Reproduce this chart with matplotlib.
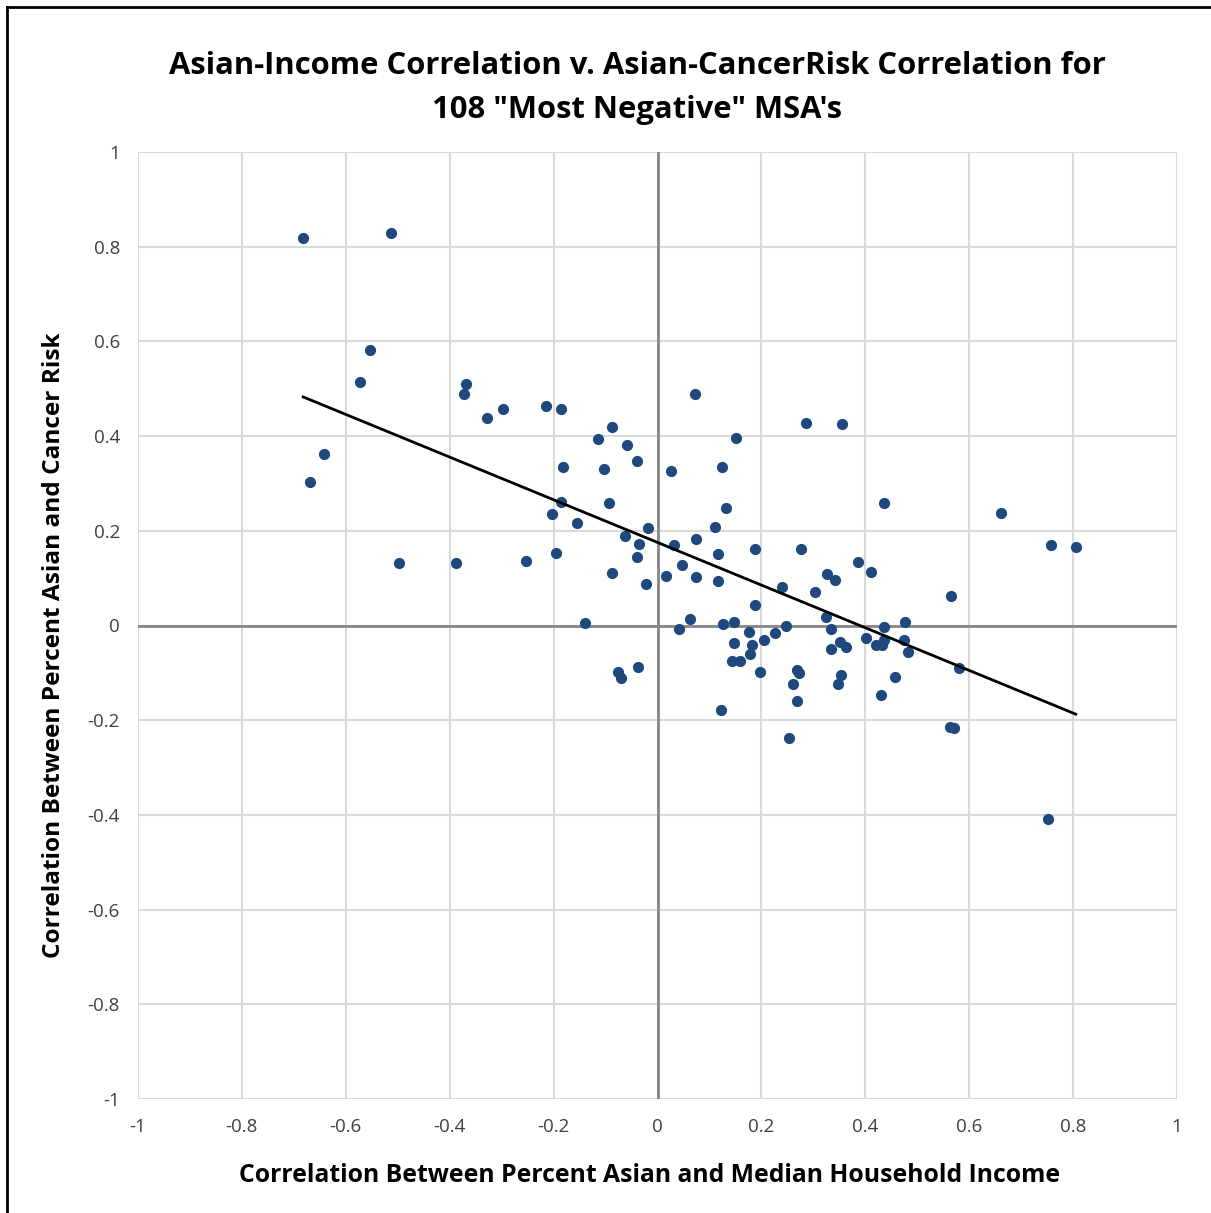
import numpy as np
import matplotlib
matplotlib.use("Agg")
import matplotlib.pyplot as plt
from matplotlib.lines import Line2D

# Data
x_income = [
    -0.682, -0.513, -0.553, -0.573, -0.642, -0.669, -0.498, -0.388, -0.368, -0.372,
    -0.328, -0.297, -0.214, -0.186, -0.253, -0.140, -0.114, -0.088, -0.103, -0.059,
    -0.039, -0.182, -0.186, -0.203, -0.155, -0.094, -0.195, -0.088, -0.063, -0.036,
    -0.039, -0.018, -0.022, -0.076, -0.070, -0.038, 0.072, 0.026, 0.032, 0.016,
    0.047, 0.074, 0.074, 0.063, 0.041, 0.124, 0.151, 0.132, 0.111, 0.117,
    0.117, 0.126, 0.148, 0.148, 0.144, 0.158, 0.177, 0.182, 0.178, 0.198,
    0.205, 0.187, 0.187, 0.122, 0.286, 0.356, 0.277, 0.226, 0.247, 0.240,
    0.303, 0.327, 0.342, 0.324, 0.334, 0.334, 0.352, 0.363, 0.268, 0.272,
    0.260, 0.268, 0.254, 0.354, 0.347, 0.386, 0.411, 0.436, 0.401, 0.420,
    0.433, 0.436, 0.436, 0.430, 0.457, 0.476, 0.475, 0.483, 0.565, 0.581,
    0.564, 0.570, 0.662, 0.758, 0.805, 0.751,
]
y_cancer = [
    0.819, 0.829, 0.582, 0.515, 0.362, 0.303, 0.132, 0.132, 0.510, 0.489,
    0.439, 0.457, 0.464, 0.458, 0.137, 0.005, 0.394, 0.420, 0.330, 0.381,
    0.348, 0.335, 0.260, 0.235, 0.216, 0.258, 0.154, 0.111, 0.190, 0.173,
    0.144, 0.205, 0.087, -0.099, -0.110, -0.088, 0.489, 0.326, 0.170, 0.104,
    0.128, 0.183, 0.102, 0.014, -0.007, 0.335, 0.397, 0.248, 0.209, 0.150,
    0.094, 0.004, 0.008, -0.036, -0.075, -0.075, -0.014, -0.041, -0.061, -0.098,
    -0.030, 0.043, 0.162, -0.178, 0.428, 0.426, 0.162, -0.016, -0.002, 0.081,
    0.071, 0.109, 0.096, 0.017, -0.008, -0.049, -0.035, -0.045, -0.094, -0.100,
    -0.123, -0.160, -0.238, -0.104, -0.124, 0.135, 0.113, 0.258, -0.026, -0.041,
    -0.042, -0.003, -0.030, -0.147, -0.109, 0.008, -0.031, -0.057, 0.063, -0.090,
    -0.214, -0.217, 0.237, 0.171, 0.165, -0.408,
]

title_text = 'Asian-Income Correlation v. Asian-CancerRisk Correlation for\n108 "Most Negative" MSA\'s'
x_label = "Correlation Between Percent Asian and Median Household Income"
y_label = "Correlation Between Percent Asian and Cancer Risk"
ticks = [-1, -0.8, -0.6, -0.4, -0.2, 0, 0.2, 0.4, 0.6, 0.8, 1]
tick_labels = ["-1", "-0.8", "-0.6", "-0.4", "-0.2", "0", "0.2", "0.4", "0.6", "0.8", "1"]

plt.rcParams['font.family'] = ['Open Sans', 'DejaVu Sans']

W, H = 1211, 1213
fig = plt.figure(figsize=(W / 100, H / 100), dpi=100)
ax = fig.add_axes([138 / W, 1 - 1099 / H, (1177 - 138) / W, (1099 - 152) / H])

ax.set_xlim(-1, 1)
ax.set_ylim(-1, 1)
ax.set_xticks(ticks)
ax.set_yticks(ticks)
ax.set_xticklabels(tick_labels)
ax.set_yticklabels(tick_labels)
ax.grid(True, color="#d9d9d9", linewidth=1.5, zorder=0)
ax.set_axisbelow(True)
for s in ax.spines.values():
    s.set_visible(False)
ax.tick_params(length=0, labelsize=13.5, colors="#404040")
ax.tick_params(axis='y', pad=13)
ax.tick_params(axis='x', pad=14)

ax.axhline(0, color="#868686", linewidth=2, zorder=1)
ax.axvline(0, color="#868686", linewidth=2, zorder=1)

ax.scatter(x_income, y_cancer, s=65, color="#1f497d", zorder=3, linewidths=0)

xa = np.array(x_income)
ya = np.array(y_cancer)
m, b = np.polyfit(xa, ya, 1)
xs = np.array([xa.min(), xa.max()])
ax.plot(xs, m * xs + b, color="black", linewidth=2, zorder=4)

ax.set_xlabel(x_label, fontsize=17.8, fontweight="bold")
ax.set_ylabel(y_label, fontsize=17.6, fontweight="bold")
ax.xaxis.set_label_coords((649.5 - 138) / 1039, -(1163 - 1099) / 947)
ax.yaxis.set_label_coords(-(138 - 66) / 1039, 1 - (645 - 152) / 947)

fig.text(637 / W, 1 - 88 / H, title_text, ha="center", va="center",
         fontsize=22.3, fontweight="bold", linespacing=1.6)

# chart frame (top and left edges visible)
fig.add_artist(Line2D([7 / W, 7 / W], [0, 1 - 7 / H], transform=fig.transFigure, color="black", linewidth=2))
fig.add_artist(Line2D([7 / W, 1], [1 - 7 / H, 1 - 7 / H], transform=fig.transFigure, color="black", linewidth=2))

fig.savefig("out.png", dpi=100)
